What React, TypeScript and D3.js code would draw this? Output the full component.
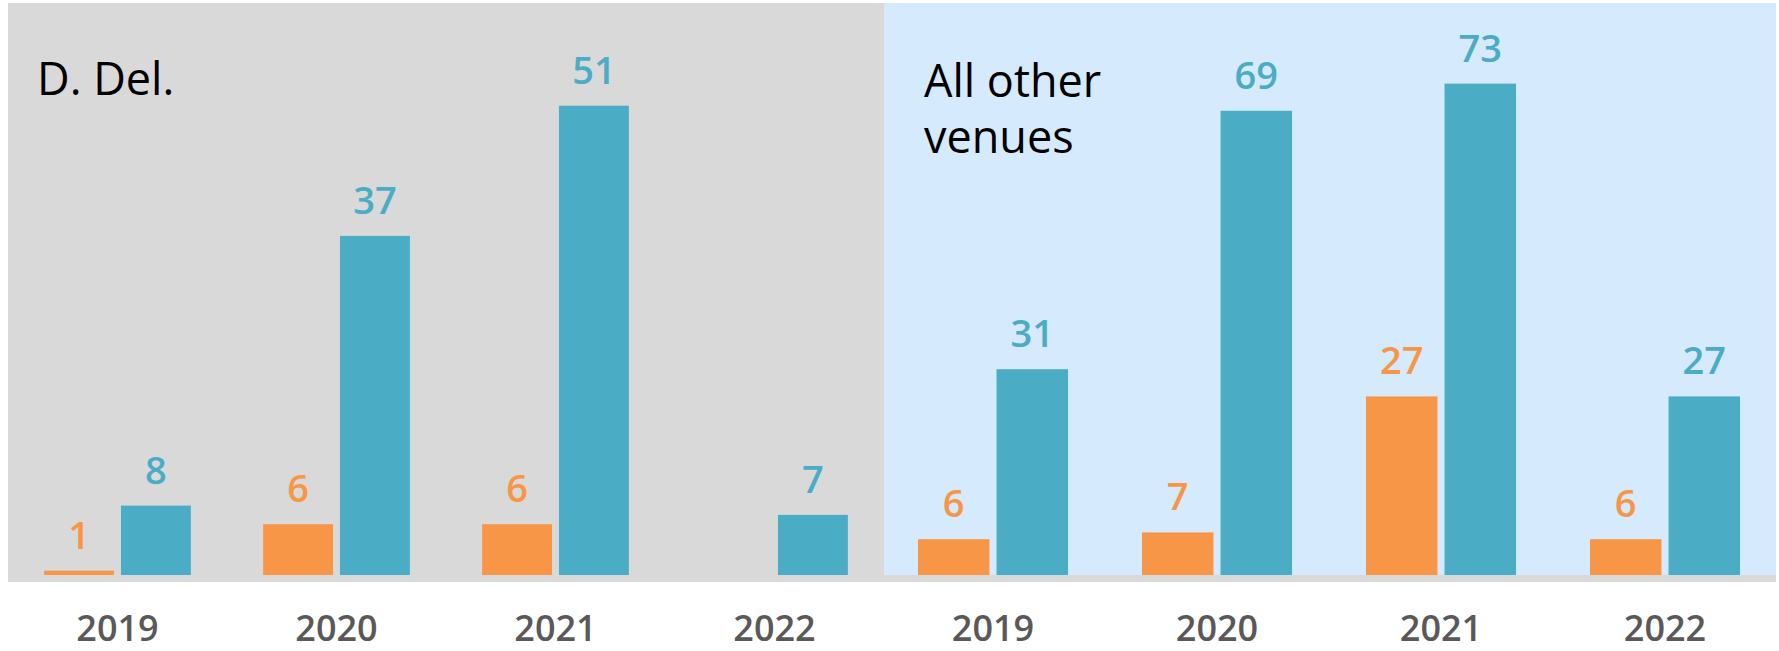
import { useEffect, useRef } from 'react';
import * as d3 from 'd3';

const years = ['2019', '2020', '2021', '2022'];
const series = ['orange', 'blue'];
const delOrange = [1, 6, 6, null];
const delBlue = [8, 37, 51, 7];
const otherOrange = [6, 7, 27, 6];
const otherBlue = [31, 69, 73, 27];

const colors: Record<string, string> = { orange: '#F79646', blue: '#4BACC6' };
const W = 1779;
const H = 651;

export default function App() {
  const svgRef = useRef<SVGSVGElement>(null);

  useEffect(() => {
    if (!svgRef.current) return;
    const svg = d3.select(svgRef.current);
    svg.selectAll('*').remove();

    const base = 580;
    const font = '"Open Sans", "Noto Sans", sans-serif';

    // panel backgrounds
    svg.append('rect').attr('x', 8).attr('y', 3).attr('width', 876).attr('height', 579).attr('fill', '#D9D9D9');
    svg.append('rect').attr('x', 884).attr('y', 3).attr('width', 892).attr('height', 572).attr('fill', '#D5EAFC');

    const panels = [
      { range: [8, 884], yMax: 60, yTop: 22, orange: delOrange, blue: delBlue, title: ['D. Del.'], tx: 37, ty: 95 },
      { range: [881, 1777], yMax: 80, yTop: 36, orange: otherOrange, blue: otherBlue, title: ['All other', 'venues'], tx: 924, ty: 97 },
    ];

    const g = svg.append('g');

    panels.forEach(p => {
      const x0 = d3.scaleBand<string>()
        .domain(years)
        .range(p.range as [number, number])
        .paddingInner(0.33)
        .paddingOuter(0.165);
      const x1 = d3.scaleBand<string>()
        .domain(series)
        .range([0, x0.bandwidth()])
        .paddingInner(0.09);
      const y = d3.scaleLinear().domain([0, p.yMax]).range([base, p.yTop]);

      years.forEach((yr, i) => {
        series.forEach(s => {
          const v = s === 'orange' ? p.orange[i] : p.blue[i];
          if (v == null) return;
          const bx = (x0(yr) ?? 0) + (x1(s) ?? 0);
          g.append('rect')
            .attr('x', bx)
            .attr('y', y(v))
            .attr('width', x1.bandwidth())
            .attr('height', base - y(v))
            .attr('fill', colors[s]);
          g.append('text')
            .attr('x', bx + x1.bandwidth() / 2)
            .attr('y', y(v) - 22)
            .attr('text-anchor', 'middle')
            .attr('font-family', font)
            .attr('font-weight', 600)
            .attr('font-size', 38)
            .attr('fill', colors[s])
            .text(v);
        });

        svg.append('text')
          .attr('x', (x0(yr) ?? 0) + x0.bandwidth() / 2)
          .attr('y', 641)
          .attr('text-anchor', 'middle')
          .attr('font-family', font)
          .attr('font-weight', 600)
          .attr('font-size', 36)
          .attr('fill', '#595959')
          .text(yr);
      });

      p.title.forEach((line, li) => {
        svg.append('text')
          .attr('x', p.tx)
          .attr('y', p.ty + li * 56)
          .attr('font-family', font)
          .attr('font-size', 45)
          .attr('fill', '#000')
          .text(line);
      });
    });

    // floor strip drawn over the bar bottoms
    svg.append('rect').attr('x', 8).attr('y', 575).attr('width', 1768).attr('height', 7).attr('fill', '#D9D9D9');
  }, []);

  return (
    <svg
      ref={svgRef}
      width={W}
      height={H}
      style={{ position: 'fixed', left: 0, top: 0, background: '#fff', display: 'block' }}
    />
  );
}
